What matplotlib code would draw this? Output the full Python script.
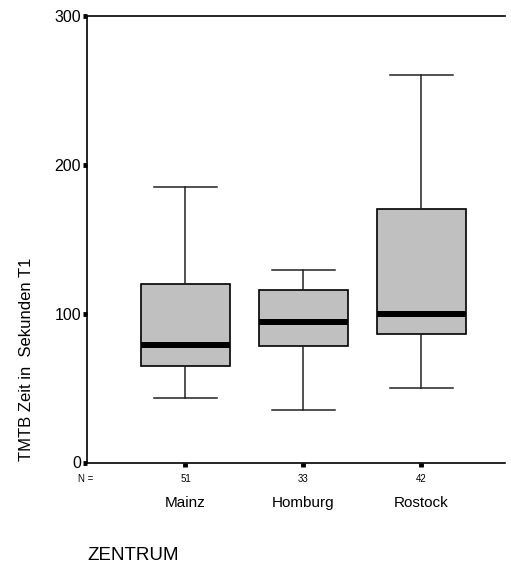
import matplotlib
matplotlib.use('Agg')
import matplotlib.pyplot as plt
import matplotlib.transforms as mtransforms

plt.rcParams['font.family'] = ['Liberation Sans', 'DejaVu Sans']

# values (SPSS style boxplot)
zentren = ['Mainz', 'Homburg', 'Rostock']
n_counts = ['51', '33', '42']
whisker_low = [43, 35, 50]
q1 = [65, 78, 86]
median = [79, 94.5, 100]
q3 = [120, 116, 170]
whisker_high = [185, 129.5, 260]

stats = []
for i in range(len(zentren)):
    stats.append({'label': zentren[i], 'whislo': whisker_low[i], 'q1': q1[i],
                  'med': median[i], 'q3': q3[i], 'whishi': whisker_high[i]})

fig = plt.figure(figsize=(5.11, 5.65), dpi=100)
ax = fig.add_axes([87 / 511, 102.5 / 565, 418 / 511, 446.8 / 565])

pos = [1, 2, 3]
ax.bxp(stats, positions=pos, widths=0.75, showfliers=False, patch_artist=True,
       boxprops=dict(facecolor='#c0c0c0', edgecolor='black', linewidth=1.2),
       medianprops=dict(color='black', linewidth=4.3, solid_capstyle='butt'),
       whiskerprops=dict(color='#222222', linewidth=1.1),
       capprops=dict(color='#222222', linewidth=1.1),
       capwidths=0.53)

ax.set_xlim(0.165, 3.709)
ax.set_ylim(0, 300)
ax.set_yticks([0, 100, 200, 300])
ax.set_xticks(pos)
ax.set_xticklabels(n_counts, fontsize=7)
ax.tick_params(axis='y', labelsize=11.5, direction='out', length=3.2, width=3.5, pad=1)
ax.tick_params(axis='x', direction='out', length=3.2, width=3.5, pad=5)

for side in ['left', 'bottom', 'top']:
    ax.spines[side].set_linewidth(1.2)
ax.spines['right'].set_visible(False)

ax.set_ylabel('TMTB Zeit in  Sekunden T1', fontsize=12)
ax.yaxis.set_label_coords(-0.126, 0.23)

# category names under the counts
trans = mtransforms.blended_transform_factory(ax.transData, fig.transFigure)
for p, name in zip(pos, zentren):
    ax.text(p, 1 - 503 / 565, name, transform=trans, ha='center', va='center', fontsize=11)

fig.text(86 / 511, 1 - 479 / 565, 'N =', ha='center', va='center', fontsize=7)
fig.text(87 / 511, 1 - 555 / 565, 'ZENTRUM', ha='left', va='center', fontsize=13.5)

plt.savefig('out.png', dpi=100)
